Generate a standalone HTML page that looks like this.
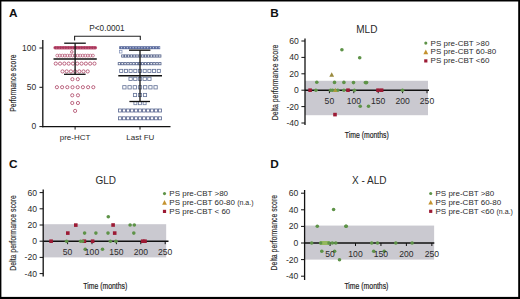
<!DOCTYPE html>
<html><head><meta charset="utf-8"><title>Figure</title>
<style>
html,body{margin:0;padding:0;background:#fff;}
body{width:520px;height:299px;overflow:hidden;}
svg{display:block;font-family:"Liberation Sans", sans-serif;}
</style></head>
<body>
<svg width="520" height="299" viewBox="0 0 520 299">
<rect x="0" y="0" width="520" height="299" fill="#000"/>
<rect x="1.4" y="1.5" width="516.8" height="295.4" fill="#fff"/>
<text x="8.90" y="17.30" font-size="11.8" text-anchor="start" font-weight="bold" fill="#111" >A</text>
<line x1="42.80" y1="40.00" x2="42.80" y2="127.20" stroke="#111" stroke-width="1.3"/>
<line x1="42.20" y1="126.60" x2="170.50" y2="126.60" stroke="#111" stroke-width="1.3"/>
<line x1="39.40" y1="48.00" x2="42.80" y2="48.00" stroke="#111" stroke-width="1.0"/>
<text x="36.20" y="50.50" font-size="8.5" text-anchor="end" font-weight="normal" fill="#2a2a2a" >100</text>
<line x1="39.40" y1="87.30" x2="42.80" y2="87.30" stroke="#111" stroke-width="1.0"/>
<text x="36.20" y="89.80" font-size="8.5" text-anchor="end" font-weight="normal" fill="#2a2a2a" >50</text>
<line x1="39.40" y1="126.60" x2="42.80" y2="126.60" stroke="#111" stroke-width="1.0"/>
<text x="36.20" y="129.10" font-size="8.5" text-anchor="end" font-weight="normal" fill="#2a2a2a" >0</text>
<line x1="75.10" y1="126.60" x2="75.10" y2="129.60" stroke="#111" stroke-width="1.0"/>
<line x1="140.00" y1="126.60" x2="140.00" y2="129.60" stroke="#111" stroke-width="1.0"/>
<text x="75.10" y="140.10" font-size="8" text-anchor="middle" font-weight="normal" fill="#2a2a2a" >pre-HCT</text>
<text x="140.30" y="140.10" font-size="8" text-anchor="middle" font-weight="normal" fill="#2a2a2a" >Last FU</text>
<text transform="translate(15.8,83.2) rotate(-90)" font-size="9" text-anchor="middle" fill="#2a2a2a" textLength="57.2" lengthAdjust="spacingAndGlyphs" stroke="#2a2a2a" stroke-width="0.15">Performance score</text>
<polyline points="74.6,40.5 74.6,36.2 140.3,36.2 140.3,40" fill="none" stroke="#222" stroke-width="1.1"/>
<text x="107.00" y="30.90" font-size="8.2" text-anchor="middle" font-weight="normal" fill="#2a2a2a" >P&lt;0.0001</text>
<rect x="53.4" y="46.1" width="43.7" height="3.3" rx="1.65" fill="#c4587a"/>
<circle cx="55.22" cy="47.70" r="0.7" fill="none" stroke="#8a2244" stroke-width="0.65"/>
<circle cx="57.87" cy="47.70" r="0.7" fill="none" stroke="#8a2244" stroke-width="0.65"/>
<circle cx="60.52" cy="47.70" r="0.7" fill="none" stroke="#8a2244" stroke-width="0.65"/>
<circle cx="63.17" cy="47.70" r="0.7" fill="none" stroke="#8a2244" stroke-width="0.65"/>
<circle cx="65.82" cy="47.70" r="0.7" fill="none" stroke="#8a2244" stroke-width="0.65"/>
<circle cx="68.47" cy="47.70" r="0.7" fill="none" stroke="#8a2244" stroke-width="0.65"/>
<circle cx="71.12" cy="47.70" r="0.7" fill="none" stroke="#8a2244" stroke-width="0.65"/>
<circle cx="73.77" cy="47.70" r="0.7" fill="none" stroke="#8a2244" stroke-width="0.65"/>
<circle cx="76.42" cy="47.70" r="0.7" fill="none" stroke="#8a2244" stroke-width="0.65"/>
<circle cx="79.07" cy="47.70" r="0.7" fill="none" stroke="#8a2244" stroke-width="0.65"/>
<circle cx="81.72" cy="47.70" r="0.7" fill="none" stroke="#8a2244" stroke-width="0.65"/>
<circle cx="84.38" cy="47.70" r="0.7" fill="none" stroke="#8a2244" stroke-width="0.65"/>
<circle cx="87.02" cy="47.70" r="0.7" fill="none" stroke="#8a2244" stroke-width="0.65"/>
<circle cx="89.67" cy="47.70" r="0.7" fill="none" stroke="#8a2244" stroke-width="0.65"/>
<circle cx="92.32" cy="47.70" r="0.7" fill="none" stroke="#8a2244" stroke-width="0.65"/>
<circle cx="94.97" cy="47.70" r="0.7" fill="none" stroke="#8a2244" stroke-width="0.65"/>
<circle cx="71.80" cy="51.90" r="1.3" fill="none" stroke="#a83a5c" stroke-width="0.75"/>
<circle cx="57.25" cy="55.60" r="1.45" fill="none" stroke="#a8385a" stroke-width="0.6"/>
<circle cx="59.80" cy="55.60" r="1.45" fill="none" stroke="#a8385a" stroke-width="0.6"/>
<circle cx="62.35" cy="55.60" r="1.45" fill="none" stroke="#a8385a" stroke-width="0.6"/>
<circle cx="64.90" cy="55.60" r="1.45" fill="none" stroke="#a8385a" stroke-width="0.6"/>
<circle cx="67.45" cy="55.60" r="1.45" fill="none" stroke="#a8385a" stroke-width="0.6"/>
<circle cx="70.00" cy="55.60" r="1.45" fill="none" stroke="#a8385a" stroke-width="0.6"/>
<circle cx="72.55" cy="55.60" r="1.45" fill="none" stroke="#a8385a" stroke-width="0.6"/>
<circle cx="75.10" cy="55.60" r="1.45" fill="none" stroke="#a8385a" stroke-width="0.6"/>
<circle cx="77.65" cy="55.60" r="1.45" fill="none" stroke="#a8385a" stroke-width="0.6"/>
<circle cx="80.20" cy="55.60" r="1.45" fill="none" stroke="#a8385a" stroke-width="0.6"/>
<circle cx="82.75" cy="55.60" r="1.45" fill="none" stroke="#a8385a" stroke-width="0.6"/>
<circle cx="85.30" cy="55.60" r="1.45" fill="none" stroke="#a8385a" stroke-width="0.6"/>
<circle cx="87.85" cy="55.60" r="1.45" fill="none" stroke="#a8385a" stroke-width="0.6"/>
<circle cx="90.40" cy="55.60" r="1.45" fill="none" stroke="#a8385a" stroke-width="0.6"/>
<circle cx="92.95" cy="55.60" r="1.45" fill="none" stroke="#a8385a" stroke-width="0.6"/>
<circle cx="55.75" cy="63.60" r="1.6" fill="none" stroke="#a83a5c" stroke-width="0.75"/>
<circle cx="60.05" cy="63.60" r="1.6" fill="none" stroke="#a83a5c" stroke-width="0.75"/>
<circle cx="64.35" cy="63.60" r="1.6" fill="none" stroke="#a83a5c" stroke-width="0.75"/>
<circle cx="68.65" cy="63.60" r="1.6" fill="none" stroke="#a83a5c" stroke-width="0.75"/>
<circle cx="72.95" cy="63.60" r="1.6" fill="none" stroke="#a83a5c" stroke-width="0.75"/>
<circle cx="77.25" cy="63.60" r="1.6" fill="none" stroke="#a83a5c" stroke-width="0.75"/>
<circle cx="81.55" cy="63.60" r="1.6" fill="none" stroke="#a83a5c" stroke-width="0.75"/>
<circle cx="85.85" cy="63.60" r="1.6" fill="none" stroke="#a83a5c" stroke-width="0.75"/>
<circle cx="90.15" cy="63.60" r="1.6" fill="none" stroke="#a83a5c" stroke-width="0.75"/>
<circle cx="94.45" cy="63.60" r="1.6" fill="none" stroke="#a83a5c" stroke-width="0.75"/>
<circle cx="62.50" cy="71.40" r="1.6" fill="none" stroke="#a83a5c" stroke-width="0.75"/>
<circle cx="66.70" cy="71.40" r="1.6" fill="none" stroke="#a83a5c" stroke-width="0.75"/>
<circle cx="70.90" cy="71.40" r="1.6" fill="none" stroke="#a83a5c" stroke-width="0.75"/>
<circle cx="75.10" cy="71.40" r="1.6" fill="none" stroke="#a83a5c" stroke-width="0.75"/>
<circle cx="79.30" cy="71.40" r="1.6" fill="none" stroke="#a83a5c" stroke-width="0.75"/>
<circle cx="83.50" cy="71.40" r="1.6" fill="none" stroke="#a83a5c" stroke-width="0.75"/>
<circle cx="87.70" cy="71.40" r="1.6" fill="none" stroke="#a83a5c" stroke-width="0.75"/>
<circle cx="72.40" cy="79.20" r="1.6" fill="none" stroke="#a83a5c" stroke-width="0.75"/>
<circle cx="77.80" cy="79.20" r="1.6" fill="none" stroke="#a83a5c" stroke-width="0.75"/>
<circle cx="56.90" cy="87.20" r="1.6" fill="none" stroke="#a83a5c" stroke-width="0.75"/>
<circle cx="62.10" cy="87.20" r="1.6" fill="none" stroke="#a83a5c" stroke-width="0.75"/>
<circle cx="67.30" cy="87.20" r="1.6" fill="none" stroke="#a83a5c" stroke-width="0.75"/>
<circle cx="72.50" cy="87.20" r="1.6" fill="none" stroke="#a83a5c" stroke-width="0.75"/>
<circle cx="77.70" cy="87.20" r="1.6" fill="none" stroke="#a83a5c" stroke-width="0.75"/>
<circle cx="82.90" cy="87.20" r="1.6" fill="none" stroke="#a83a5c" stroke-width="0.75"/>
<circle cx="88.10" cy="87.20" r="1.6" fill="none" stroke="#a83a5c" stroke-width="0.75"/>
<circle cx="93.30" cy="87.20" r="1.6" fill="none" stroke="#a83a5c" stroke-width="0.75"/>
<circle cx="72.25" cy="95.30" r="1.6" fill="none" stroke="#a83a5c" stroke-width="0.75"/>
<circle cx="77.95" cy="95.30" r="1.6" fill="none" stroke="#a83a5c" stroke-width="0.75"/>
<circle cx="72.25" cy="103.00" r="1.6" fill="none" stroke="#a83a5c" stroke-width="0.75"/>
<circle cx="77.95" cy="103.00" r="1.6" fill="none" stroke="#a83a5c" stroke-width="0.75"/>
<circle cx="75.10" cy="110.90" r="1.6" fill="none" stroke="#a83a5c" stroke-width="0.75"/>
<line x1="75.10" y1="43.20" x2="75.10" y2="74.30" stroke="#111" stroke-width="1.3"/>
<line x1="64.20" y1="43.20" x2="85.80" y2="43.20" stroke="#111" stroke-width="1.3"/>
<line x1="64.00" y1="74.30" x2="85.60" y2="74.30" stroke="#111" stroke-width="1.3"/>
<line x1="53.50" y1="58.90" x2="96.80" y2="58.90" stroke="#111" stroke-width="1.5"/>
<rect x="119.2" y="46.2" width="41.0" height="3.0" fill="#5a6a9c"/>
<rect x="121.00" y="47.10" width="1.10" height="1.20" fill="#c4cce6" stroke="none" stroke-width="0"/>
<rect x="123.90" y="47.10" width="1.10" height="1.20" fill="#c4cce6" stroke="none" stroke-width="0"/>
<rect x="126.80" y="47.10" width="1.10" height="1.20" fill="#c4cce6" stroke="none" stroke-width="0"/>
<rect x="129.70" y="47.10" width="1.10" height="1.20" fill="#c4cce6" stroke="none" stroke-width="0"/>
<rect x="132.60" y="47.10" width="1.10" height="1.20" fill="#c4cce6" stroke="none" stroke-width="0"/>
<rect x="135.50" y="47.10" width="1.10" height="1.20" fill="#c4cce6" stroke="none" stroke-width="0"/>
<rect x="138.40" y="47.10" width="1.10" height="1.20" fill="#c4cce6" stroke="none" stroke-width="0"/>
<rect x="141.30" y="47.10" width="1.10" height="1.20" fill="#c4cce6" stroke="none" stroke-width="0"/>
<rect x="144.20" y="47.10" width="1.10" height="1.20" fill="#c4cce6" stroke="none" stroke-width="0"/>
<rect x="147.10" y="47.10" width="1.10" height="1.20" fill="#c4cce6" stroke="none" stroke-width="0"/>
<rect x="150.00" y="47.10" width="1.10" height="1.20" fill="#c4cce6" stroke="none" stroke-width="0"/>
<rect x="152.90" y="47.10" width="1.10" height="1.20" fill="#c4cce6" stroke="none" stroke-width="0"/>
<rect x="155.80" y="47.10" width="1.10" height="1.20" fill="#c4cce6" stroke="none" stroke-width="0"/>
<rect x="158.70" y="47.10" width="1.10" height="1.20" fill="#c4cce6" stroke="none" stroke-width="0"/>
<rect x="119.60" y="50.60" width="2.40" height="2.40" fill="#fff" stroke="#8090b8" stroke-width="0.7"/>
<rect x="121.68" y="54.90" width="2.20" height="2.20" fill="#fff" stroke="#4a5882" stroke-width="0.8"/>
<rect x="124.53" y="54.90" width="2.20" height="2.20" fill="#fff" stroke="#4a5882" stroke-width="0.8"/>
<rect x="127.38" y="54.90" width="2.20" height="2.20" fill="#fff" stroke="#4a5882" stroke-width="0.8"/>
<rect x="130.23" y="54.90" width="2.20" height="2.20" fill="#fff" stroke="#4a5882" stroke-width="0.8"/>
<rect x="133.08" y="54.90" width="2.20" height="2.20" fill="#fff" stroke="#4a5882" stroke-width="0.8"/>
<rect x="135.93" y="54.90" width="2.20" height="2.20" fill="#fff" stroke="#4a5882" stroke-width="0.8"/>
<rect x="138.78" y="54.90" width="2.20" height="2.20" fill="#fff" stroke="#4a5882" stroke-width="0.8"/>
<rect x="141.62" y="54.90" width="2.20" height="2.20" fill="#fff" stroke="#4a5882" stroke-width="0.8"/>
<rect x="144.48" y="54.90" width="2.20" height="2.20" fill="#fff" stroke="#4a5882" stroke-width="0.8"/>
<rect x="147.33" y="54.90" width="2.20" height="2.20" fill="#fff" stroke="#4a5882" stroke-width="0.8"/>
<rect x="150.18" y="54.90" width="2.20" height="2.20" fill="#fff" stroke="#4a5882" stroke-width="0.8"/>
<rect x="153.03" y="54.90" width="2.20" height="2.20" fill="#fff" stroke="#4a5882" stroke-width="0.8"/>
<rect x="155.88" y="54.90" width="2.20" height="2.20" fill="#fff" stroke="#4a5882" stroke-width="0.8"/>
<rect x="158.73" y="54.90" width="2.20" height="2.20" fill="#fff" stroke="#4a5882" stroke-width="0.8"/>
<rect x="118.20" y="62.60" width="2.20" height="2.20" fill="#fff" stroke="#4e5c86" stroke-width="0.8"/>
<rect x="121.10" y="62.60" width="2.20" height="2.20" fill="#fff" stroke="#4e5c86" stroke-width="0.8"/>
<rect x="124.00" y="62.60" width="2.20" height="2.20" fill="#fff" stroke="#4e5c86" stroke-width="0.8"/>
<rect x="126.90" y="62.60" width="2.20" height="2.20" fill="#fff" stroke="#4e5c86" stroke-width="0.8"/>
<rect x="129.80" y="62.60" width="2.20" height="2.20" fill="#fff" stroke="#4e5c86" stroke-width="0.8"/>
<rect x="132.70" y="62.60" width="2.20" height="2.20" fill="#fff" stroke="#4e5c86" stroke-width="0.8"/>
<rect x="135.60" y="62.60" width="2.20" height="2.20" fill="#fff" stroke="#4e5c86" stroke-width="0.8"/>
<rect x="138.50" y="62.60" width="2.20" height="2.20" fill="#fff" stroke="#4e5c86" stroke-width="0.8"/>
<rect x="141.40" y="62.60" width="2.20" height="2.20" fill="#fff" stroke="#4e5c86" stroke-width="0.8"/>
<rect x="144.30" y="62.60" width="2.20" height="2.20" fill="#fff" stroke="#4e5c86" stroke-width="0.8"/>
<rect x="147.20" y="62.60" width="2.20" height="2.20" fill="#fff" stroke="#4e5c86" stroke-width="0.8"/>
<rect x="150.10" y="62.60" width="2.20" height="2.20" fill="#fff" stroke="#4e5c86" stroke-width="0.8"/>
<rect x="153.00" y="62.60" width="2.20" height="2.20" fill="#fff" stroke="#4e5c86" stroke-width="0.8"/>
<rect x="155.90" y="62.60" width="2.20" height="2.20" fill="#fff" stroke="#4e5c86" stroke-width="0.8"/>
<rect x="158.80" y="62.60" width="2.20" height="2.20" fill="#fff" stroke="#4e5c86" stroke-width="0.8"/>
<rect x="119.65" y="69.35" width="3.10" height="3.10" fill="#fff" stroke="#6a789c" stroke-width="0.85"/>
<rect x="124.35" y="69.35" width="3.10" height="3.10" fill="#fff" stroke="#6a789c" stroke-width="0.85"/>
<rect x="129.05" y="69.35" width="3.10" height="3.10" fill="#fff" stroke="#6a789c" stroke-width="0.85"/>
<rect x="133.75" y="69.35" width="3.10" height="3.10" fill="#fff" stroke="#6a789c" stroke-width="0.85"/>
<rect x="138.45" y="69.35" width="3.10" height="3.10" fill="#fff" stroke="#6a789c" stroke-width="0.85"/>
<rect x="143.15" y="69.35" width="3.10" height="3.10" fill="#fff" stroke="#6a789c" stroke-width="0.85"/>
<rect x="147.85" y="69.35" width="3.10" height="3.10" fill="#fff" stroke="#6a789c" stroke-width="0.85"/>
<rect x="152.55" y="69.35" width="3.10" height="3.10" fill="#fff" stroke="#6a789c" stroke-width="0.85"/>
<rect x="157.25" y="69.35" width="3.10" height="3.10" fill="#fff" stroke="#6a789c" stroke-width="0.85"/>
<rect x="128.95" y="77.25" width="3.30" height="3.30" fill="#fff" stroke="#6a789c" stroke-width="0.85"/>
<rect x="133.65" y="77.25" width="3.30" height="3.30" fill="#fff" stroke="#6a789c" stroke-width="0.85"/>
<rect x="138.35" y="77.25" width="3.30" height="3.30" fill="#fff" stroke="#6a789c" stroke-width="0.85"/>
<rect x="143.05" y="77.25" width="3.30" height="3.30" fill="#fff" stroke="#6a789c" stroke-width="0.85"/>
<rect x="147.75" y="77.25" width="3.30" height="3.30" fill="#fff" stroke="#6a789c" stroke-width="0.85"/>
<rect x="122.75" y="85.65" width="3.30" height="3.30" fill="#fff" stroke="#6a789c" stroke-width="0.85"/>
<rect x="127.95" y="85.65" width="3.30" height="3.30" fill="#fff" stroke="#6a789c" stroke-width="0.85"/>
<rect x="133.15" y="85.65" width="3.30" height="3.30" fill="#fff" stroke="#6a789c" stroke-width="0.85"/>
<rect x="138.35" y="85.65" width="3.30" height="3.30" fill="#fff" stroke="#6a789c" stroke-width="0.85"/>
<rect x="143.55" y="85.65" width="3.30" height="3.30" fill="#fff" stroke="#6a789c" stroke-width="0.85"/>
<rect x="148.75" y="85.65" width="3.30" height="3.30" fill="#fff" stroke="#6a789c" stroke-width="0.85"/>
<rect x="153.95" y="85.65" width="3.30" height="3.30" fill="#fff" stroke="#6a789c" stroke-width="0.85"/>
<rect x="133.40" y="93.40" width="3.20" height="3.20" fill="#fff" stroke="#6a789c" stroke-width="0.85"/>
<rect x="138.40" y="93.40" width="3.20" height="3.20" fill="#fff" stroke="#6a789c" stroke-width="0.85"/>
<rect x="143.40" y="93.40" width="3.20" height="3.20" fill="#fff" stroke="#6a789c" stroke-width="0.85"/>
<rect x="133.90" y="101.70" width="3.00" height="3.00" fill="#fff" stroke="#6a789c" stroke-width="0.8"/>
<rect x="138.50" y="101.70" width="3.00" height="3.00" fill="#fff" stroke="#6a789c" stroke-width="0.8"/>
<rect x="143.10" y="101.70" width="3.00" height="3.00" fill="#fff" stroke="#6a789c" stroke-width="0.8"/>
<rect x="118.50" y="109.00" width="3.00" height="3.00" fill="#fff" stroke="#5e6c94" stroke-width="0.85"/>
<rect x="122.50" y="109.00" width="3.00" height="3.00" fill="#fff" stroke="#5e6c94" stroke-width="0.85"/>
<rect x="126.50" y="109.00" width="3.00" height="3.00" fill="#fff" stroke="#5e6c94" stroke-width="0.85"/>
<rect x="130.50" y="109.00" width="3.00" height="3.00" fill="#fff" stroke="#5e6c94" stroke-width="0.85"/>
<rect x="134.50" y="109.00" width="3.00" height="3.00" fill="#fff" stroke="#5e6c94" stroke-width="0.85"/>
<rect x="138.50" y="109.00" width="3.00" height="3.00" fill="#fff" stroke="#5e6c94" stroke-width="0.85"/>
<rect x="142.50" y="109.00" width="3.00" height="3.00" fill="#fff" stroke="#5e6c94" stroke-width="0.85"/>
<rect x="146.50" y="109.00" width="3.00" height="3.00" fill="#fff" stroke="#5e6c94" stroke-width="0.85"/>
<rect x="150.50" y="109.00" width="3.00" height="3.00" fill="#fff" stroke="#5e6c94" stroke-width="0.85"/>
<rect x="154.50" y="109.00" width="3.00" height="3.00" fill="#fff" stroke="#5e6c94" stroke-width="0.85"/>
<rect x="158.50" y="109.00" width="3.00" height="3.00" fill="#fff" stroke="#5e6c94" stroke-width="0.85"/>
<rect x="118.50" y="116.80" width="3.00" height="3.00" fill="#fff" stroke="#5e6c94" stroke-width="0.85"/>
<rect x="122.50" y="116.80" width="3.00" height="3.00" fill="#fff" stroke="#5e6c94" stroke-width="0.85"/>
<rect x="126.50" y="116.80" width="3.00" height="3.00" fill="#fff" stroke="#5e6c94" stroke-width="0.85"/>
<rect x="130.50" y="116.80" width="3.00" height="3.00" fill="#fff" stroke="#5e6c94" stroke-width="0.85"/>
<rect x="134.50" y="116.80" width="3.00" height="3.00" fill="#fff" stroke="#5e6c94" stroke-width="0.85"/>
<rect x="138.50" y="116.80" width="3.00" height="3.00" fill="#fff" stroke="#5e6c94" stroke-width="0.85"/>
<rect x="142.50" y="116.80" width="3.00" height="3.00" fill="#fff" stroke="#5e6c94" stroke-width="0.85"/>
<rect x="146.50" y="116.80" width="3.00" height="3.00" fill="#fff" stroke="#5e6c94" stroke-width="0.85"/>
<rect x="150.50" y="116.80" width="3.00" height="3.00" fill="#fff" stroke="#5e6c94" stroke-width="0.85"/>
<rect x="154.50" y="116.80" width="3.00" height="3.00" fill="#fff" stroke="#5e6c94" stroke-width="0.85"/>
<rect x="158.50" y="116.80" width="3.00" height="3.00" fill="#fff" stroke="#5e6c94" stroke-width="0.85"/>
<line x1="140.00" y1="50.20" x2="140.00" y2="101.50" stroke="#111" stroke-width="1.3"/>
<line x1="129.00" y1="50.20" x2="150.40" y2="50.20" stroke="#111" stroke-width="1.3"/>
<line x1="129.40" y1="101.50" x2="150.00" y2="101.50" stroke="#111" stroke-width="1.3"/>
<line x1="118.30" y1="75.70" x2="162.00" y2="75.70" stroke="#111" stroke-width="1.5"/>
<text x="270.20" y="17.30" font-size="11.8" text-anchor="start" font-weight="bold" fill="#111" >B</text>
<text x="366.80" y="33.00" font-size="10" text-anchor="middle" font-weight="normal" fill="#2a2a2a" >MLD</text>
<rect x="305.00" y="80.77" width="122.98" height="34.44" fill="#cac9d0" stroke="none" stroke-width="0"/>
<line x1="305.00" y1="38.40" x2="305.00" y2="125.00" stroke="#111" stroke-width="1.3"/>
<line x1="301.40" y1="41.00" x2="305.00" y2="41.00" stroke="#111" stroke-width="1.0"/>
<line x1="301.40" y1="57.40" x2="305.00" y2="57.40" stroke="#111" stroke-width="1.0"/>
<line x1="301.40" y1="73.80" x2="305.00" y2="73.80" stroke="#111" stroke-width="1.0"/>
<line x1="301.40" y1="90.20" x2="305.00" y2="90.20" stroke="#111" stroke-width="1.0"/>
<line x1="301.40" y1="106.60" x2="305.00" y2="106.60" stroke="#111" stroke-width="1.0"/>
<line x1="301.40" y1="123.00" x2="305.00" y2="123.00" stroke="#111" stroke-width="1.0"/>
<line x1="305.00" y1="90.20" x2="429.00" y2="90.20" stroke="#111" stroke-width="1.4"/>
<line x1="329.40" y1="90.20" x2="329.40" y2="93.20" stroke="#111" stroke-width="1.0"/>
<line x1="353.80" y1="90.20" x2="353.80" y2="93.20" stroke="#111" stroke-width="1.0"/>
<line x1="378.20" y1="90.20" x2="378.20" y2="93.20" stroke="#111" stroke-width="1.0"/>
<line x1="402.60" y1="90.20" x2="402.60" y2="93.20" stroke="#111" stroke-width="1.0"/>
<line x1="427.00" y1="90.20" x2="427.00" y2="93.20" stroke="#111" stroke-width="1.0"/>
<circle cx="341.90" cy="49.70" r="1.8" fill="#5e9348" stroke="none" stroke-width="0"/>
<circle cx="359.70" cy="57.70" r="1.8" fill="#5e9348" stroke="none" stroke-width="0"/>
<circle cx="316.80" cy="82.20" r="1.8" fill="#5e9348" stroke="none" stroke-width="0"/>
<circle cx="334.50" cy="82.40" r="1.8" fill="#5e9348" stroke="none" stroke-width="0"/>
<circle cx="343.90" cy="82.40" r="1.8" fill="#5e9348" stroke="none" stroke-width="0"/>
<circle cx="353.50" cy="82.60" r="1.8" fill="#5e9348" stroke="none" stroke-width="0"/>
<circle cx="365.40" cy="82.60" r="1.8" fill="#5e9348" stroke="none" stroke-width="0"/>
<circle cx="366.60" cy="82.60" r="1.8" fill="#5e9348" stroke="none" stroke-width="0"/>
<circle cx="315.90" cy="90.20" r="1.8" fill="#5e9348" stroke="none" stroke-width="0"/>
<circle cx="330.60" cy="90.20" r="1.8" fill="#5e9348" stroke="none" stroke-width="0"/>
<circle cx="332.60" cy="90.20" r="1.8" fill="#5e9348" stroke="none" stroke-width="0"/>
<circle cx="337.80" cy="90.20" r="1.8" fill="#5e9348" stroke="none" stroke-width="0"/>
<circle cx="343.90" cy="90.20" r="1.8" fill="#5e9348" stroke="none" stroke-width="0"/>
<circle cx="354.40" cy="90.20" r="1.8" fill="#5e9348" stroke="none" stroke-width="0"/>
<circle cx="402.50" cy="90.20" r="1.8" fill="#5e9348" stroke="none" stroke-width="0"/>
<circle cx="360.20" cy="106.30" r="1.8" fill="#5e9348" stroke="none" stroke-width="0"/>
<circle cx="368.50" cy="106.30" r="1.8" fill="#5e9348" stroke="none" stroke-width="0"/>
<polygon points="331.70,72.14 334.10,76.76 329.30,76.76" fill="#9a8a3e"/>
<polygon points="335.30,87.72 337.50,91.98 333.10,91.98" fill="#a89a3a"/>
<rect x="308.30" y="88.40" width="3.60" height="3.60" fill="#9c1a34" stroke="none" stroke-width="0"/>
<rect x="346.20" y="88.40" width="3.60" height="3.60" fill="#9c1a34" stroke="none" stroke-width="0"/>
<rect x="376.20" y="88.40" width="3.60" height="3.60" fill="#9c1a34" stroke="none" stroke-width="0"/>
<rect x="379.80" y="88.40" width="3.60" height="3.60" fill="#9c1a34" stroke="none" stroke-width="0"/>
<rect x="333.20" y="112.80" width="3.60" height="3.60" fill="#9c1a34" stroke="none" stroke-width="0"/>
<text x="298.80" y="44.00" font-size="8.6" text-anchor="end" font-weight="normal" fill="#2a2a2a" >60</text>
<text x="298.80" y="60.40" font-size="8.6" text-anchor="end" font-weight="normal" fill="#2a2a2a" >40</text>
<text x="298.80" y="76.80" font-size="8.6" text-anchor="end" font-weight="normal" fill="#2a2a2a" >20</text>
<text x="298.80" y="93.20" font-size="8.6" text-anchor="end" font-weight="normal" fill="#2a2a2a" >0</text>
<text x="298.80" y="109.60" font-size="8.6" text-anchor="end" font-weight="normal" fill="#2a2a2a" >-20</text>
<text x="298.80" y="126.00" font-size="8.6" text-anchor="end" font-weight="normal" fill="#2a2a2a" >-40</text>
<text x="329.40" y="103.80" font-size="8.6" text-anchor="middle" font-weight="normal" fill="#2a2a2a" >50</text>
<text x="353.80" y="103.80" font-size="8.6" text-anchor="middle" font-weight="normal" fill="#2a2a2a" >100</text>
<text x="378.20" y="103.80" font-size="8.6" text-anchor="middle" font-weight="normal" fill="#2a2a2a" >150</text>
<text x="402.60" y="103.80" font-size="8.6" text-anchor="middle" font-weight="normal" fill="#2a2a2a" >200</text>
<text x="427.00" y="103.80" font-size="8.6" text-anchor="middle" font-weight="normal" fill="#2a2a2a" >250</text>
<text transform="translate(277.60,82.50) rotate(-90)" font-size="9" text-anchor="middle" fill="#2a2a2a" textLength="75.6" lengthAdjust="spacingAndGlyphs" stroke="#2a2a2a" stroke-width="0.15">Delta performance score</text>
<text x="344.80" y="137.50" font-size="9.4" fill="#222" textLength="44" lengthAdjust="spacingAndGlyphs" stroke="#222" stroke-width="0.2">Time (months)</text>
<circle cx="425.80" cy="43.10" r="1.55" fill="#5e9348" stroke="none" stroke-width="0"/>
<text x="430.60" y="45.50" font-size="8" text-anchor="start" font-weight="normal" fill="#2a2a2a" >PS pre-CBT &gt;80</text>
<polygon points="425.80,49.54 428.20,54.16 423.40,54.16" fill="#c4922e"/>
<text x="430.60" y="54.40" font-size="8" text-anchor="start" font-weight="normal" fill="#2a2a2a" >PS pre-CBT 60-80</text>
<rect x="424.20" y="59.30" width="3.20" height="3.20" fill="#9c1a34" stroke="none" stroke-width="0"/>
<text x="430.60" y="63.30" font-size="8" text-anchor="start" font-weight="normal" fill="#2a2a2a" >PS pre-CBT &lt;60</text>
<text x="8.90" y="168.20" font-size="11.8" text-anchor="start" font-weight="bold" fill="#111" >C</text>
<text x="105.80" y="183.90" font-size="10" text-anchor="middle" font-weight="normal" fill="#2a2a2a" >GLD</text>
<rect x="43.20" y="224.19" width="122.98" height="33.21" fill="#cac9d0" stroke="none" stroke-width="0"/>
<line x1="43.20" y1="189.60" x2="43.20" y2="276.50" stroke="#111" stroke-width="1.3"/>
<line x1="39.60" y1="192.60" x2="43.20" y2="192.60" stroke="#111" stroke-width="1.0"/>
<line x1="39.60" y1="208.80" x2="43.20" y2="208.80" stroke="#111" stroke-width="1.0"/>
<line x1="39.60" y1="225.00" x2="43.20" y2="225.00" stroke="#111" stroke-width="1.0"/>
<line x1="39.60" y1="241.20" x2="43.20" y2="241.20" stroke="#111" stroke-width="1.0"/>
<line x1="39.60" y1="257.40" x2="43.20" y2="257.40" stroke="#111" stroke-width="1.0"/>
<line x1="39.60" y1="273.60" x2="43.20" y2="273.60" stroke="#111" stroke-width="1.0"/>
<line x1="43.20" y1="241.20" x2="168.50" y2="241.20" stroke="#111" stroke-width="1.4"/>
<line x1="67.60" y1="241.20" x2="67.60" y2="244.20" stroke="#111" stroke-width="1.0"/>
<line x1="92.00" y1="241.20" x2="92.00" y2="244.20" stroke="#111" stroke-width="1.0"/>
<line x1="116.40" y1="241.20" x2="116.40" y2="244.20" stroke="#111" stroke-width="1.0"/>
<line x1="140.80" y1="241.20" x2="140.80" y2="244.20" stroke="#111" stroke-width="1.0"/>
<line x1="165.20" y1="241.20" x2="165.20" y2="244.20" stroke="#111" stroke-width="1.0"/>
<rect x="49.30" y="239.40" width="3.60" height="3.60" fill="#9c1a34" stroke="none" stroke-width="0"/>
<rect x="66.00" y="231.30" width="3.60" height="3.60" fill="#9c1a34" stroke="none" stroke-width="0"/>
<rect x="74.00" y="223.30" width="3.60" height="3.60" fill="#9c1a34" stroke="none" stroke-width="0"/>
<rect x="82.60" y="239.40" width="3.60" height="3.60" fill="#9c1a34" stroke="none" stroke-width="0"/>
<rect x="90.80" y="239.40" width="3.60" height="3.60" fill="#9c1a34" stroke="none" stroke-width="0"/>
<rect x="111.30" y="223.20" width="3.60" height="3.60" fill="#9c1a34" stroke="none" stroke-width="0"/>
<rect x="112.90" y="231.30" width="3.60" height="3.60" fill="#9c1a34" stroke="none" stroke-width="0"/>
<rect x="140.90" y="239.40" width="3.60" height="3.60" fill="#9c1a34" stroke="none" stroke-width="0"/>
<rect x="143.20" y="239.40" width="3.60" height="3.60" fill="#9c1a34" stroke="none" stroke-width="0"/>
<circle cx="108.30" cy="216.70" r="1.8" fill="#5e9348" stroke="none" stroke-width="0"/>
<circle cx="108.00" cy="233.10" r="1.8" fill="#5e9348" stroke="none" stroke-width="0"/>
<circle cx="84.60" cy="233.10" r="1.8" fill="#5e9348" stroke="none" stroke-width="0"/>
<circle cx="95.90" cy="233.10" r="1.8" fill="#5e9348" stroke="none" stroke-width="0"/>
<circle cx="130.10" cy="225.00" r="1.8" fill="#5e9348" stroke="none" stroke-width="0"/>
<circle cx="134.30" cy="225.00" r="1.8" fill="#5e9348" stroke="none" stroke-width="0"/>
<circle cx="133.80" cy="233.10" r="1.8" fill="#5e9348" stroke="none" stroke-width="0"/>
<circle cx="66.60" cy="241.20" r="1.8" fill="#5e9348" stroke="none" stroke-width="0"/>
<circle cx="80.60" cy="241.20" r="1.8" fill="#5e9348" stroke="none" stroke-width="0"/>
<circle cx="82.60" cy="241.20" r="1.8" fill="#5e9348" stroke="none" stroke-width="0"/>
<circle cx="110.40" cy="241.20" r="1.8" fill="#5e9348" stroke="none" stroke-width="0"/>
<circle cx="115.90" cy="241.20" r="1.8" fill="#5e9348" stroke="none" stroke-width="0"/>
<circle cx="102.50" cy="249.30" r="1.8" fill="#5e9348" stroke="none" stroke-width="0"/>
<circle cx="85.20" cy="249.30" r="1.8" fill="#5e9348" stroke="none" stroke-width="0"/>
<text x="37.00" y="195.60" font-size="8.6" text-anchor="end" font-weight="normal" fill="#2a2a2a" >60</text>
<text x="37.00" y="211.80" font-size="8.6" text-anchor="end" font-weight="normal" fill="#2a2a2a" >40</text>
<text x="37.00" y="228.00" font-size="8.6" text-anchor="end" font-weight="normal" fill="#2a2a2a" >20</text>
<text x="37.00" y="244.20" font-size="8.6" text-anchor="end" font-weight="normal" fill="#2a2a2a" >0</text>
<text x="37.00" y="260.40" font-size="8.6" text-anchor="end" font-weight="normal" fill="#2a2a2a" >-20</text>
<text x="37.00" y="276.60" font-size="8.6" text-anchor="end" font-weight="normal" fill="#2a2a2a" >-40</text>
<text x="67.60" y="254.80" font-size="8.6" text-anchor="middle" font-weight="normal" fill="#2a2a2a" >50</text>
<text x="92.00" y="254.80" font-size="8.6" text-anchor="middle" font-weight="normal" fill="#2a2a2a" >100</text>
<text x="116.40" y="254.80" font-size="8.6" text-anchor="middle" font-weight="normal" fill="#2a2a2a" >150</text>
<text x="140.80" y="254.80" font-size="8.6" text-anchor="middle" font-weight="normal" fill="#2a2a2a" >200</text>
<text x="165.20" y="254.80" font-size="8.6" text-anchor="middle" font-weight="normal" fill="#2a2a2a" >250</text>
<text transform="translate(15.70,232.90) rotate(-90)" font-size="9" text-anchor="middle" fill="#2a2a2a" textLength="75.7" lengthAdjust="spacingAndGlyphs" stroke="#2a2a2a" stroke-width="0.15">Delta performance score</text>
<text x="83.30" y="289.20" font-size="9.4" fill="#222" textLength="44" lengthAdjust="spacingAndGlyphs" stroke="#222" stroke-width="0.2">Time (months)</text>
<circle cx="164.50" cy="193.60" r="1.55" fill="#5e9348" stroke="none" stroke-width="0"/>
<text x="169.30" y="196.00" font-size="8" text-anchor="start" font-weight="normal" fill="#2a2a2a" >PS pre-CBT &gt;80</text>
<polygon points="164.50,200.04 166.90,204.66 162.10,204.66" fill="#c4922e"/>
<text x="169.30" y="204.90" font-size="8" text-anchor="start" font-weight="normal" fill="#2a2a2a" >PS pre-CBT 60-80 <tspan font-size="7">(n.a.)</tspan></text>
<rect x="162.90" y="209.80" width="3.20" height="3.20" fill="#9c1a34" stroke="none" stroke-width="0"/>
<text x="169.30" y="213.80" font-size="8" text-anchor="start" font-weight="normal" fill="#2a2a2a" >PS pre-CBT &lt; 60</text>
<text x="270.20" y="168.40" font-size="11.8" text-anchor="start" font-weight="bold" fill="#111" >D</text>
<text x="369.30" y="183.50" font-size="10" text-anchor="middle" font-weight="normal" fill="#2a2a2a" >X - ALD</text>
<rect x="304.60" y="225.57" width="129.54" height="34.03" fill="#cac9d0" stroke="none" stroke-width="0"/>
<line x1="304.60" y1="190.00" x2="304.60" y2="280.00" stroke="#111" stroke-width="1.3"/>
<line x1="301.00" y1="193.20" x2="304.60" y2="193.20" stroke="#111" stroke-width="1.0"/>
<line x1="301.00" y1="209.80" x2="304.60" y2="209.80" stroke="#111" stroke-width="1.0"/>
<line x1="301.00" y1="226.40" x2="304.60" y2="226.40" stroke="#111" stroke-width="1.0"/>
<line x1="301.00" y1="243.00" x2="304.60" y2="243.00" stroke="#111" stroke-width="1.0"/>
<line x1="301.00" y1="259.60" x2="304.60" y2="259.60" stroke="#111" stroke-width="1.0"/>
<line x1="301.00" y1="276.20" x2="304.60" y2="276.20" stroke="#111" stroke-width="1.0"/>
<line x1="304.60" y1="243.00" x2="434.30" y2="243.00" stroke="#111" stroke-width="1.4"/>
<line x1="330.05" y1="243.00" x2="330.05" y2="246.00" stroke="#111" stroke-width="1.0"/>
<line x1="355.50" y1="243.00" x2="355.50" y2="246.00" stroke="#111" stroke-width="1.0"/>
<line x1="380.95" y1="243.00" x2="380.95" y2="246.00" stroke="#111" stroke-width="1.0"/>
<line x1="406.40" y1="243.00" x2="406.40" y2="246.00" stroke="#111" stroke-width="1.0"/>
<line x1="431.85" y1="243.00" x2="431.85" y2="246.00" stroke="#111" stroke-width="1.0"/>
<rect x="319.6" y="241.0" width="10.5" height="4.0" rx="1.8" fill="#94b85c"/>
<circle cx="317.30" cy="226.30" r="1.8" fill="#5e9348" stroke="none" stroke-width="0"/>
<circle cx="345.90" cy="226.30" r="1.8" fill="#5e9348" stroke="none" stroke-width="0"/>
<circle cx="346.20" cy="226.30" r="1.8" fill="#5e9348" stroke="none" stroke-width="0"/>
<circle cx="333.60" cy="209.50" r="1.8" fill="#5e9348" stroke="none" stroke-width="0"/>
<circle cx="311.70" cy="243.00" r="1.8" fill="#5e9348" stroke="none" stroke-width="0"/>
<circle cx="320.60" cy="243.00" r="1.8" fill="#5e9348" stroke="none" stroke-width="0"/>
<circle cx="329.00" cy="243.00" r="1.8" fill="#5e9348" stroke="none" stroke-width="0"/>
<circle cx="332.30" cy="243.00" r="1.8" fill="#5e9348" stroke="none" stroke-width="0"/>
<circle cx="335.80" cy="243.00" r="1.8" fill="#5e9348" stroke="none" stroke-width="0"/>
<circle cx="371.70" cy="243.00" r="1.8" fill="#5e9348" stroke="none" stroke-width="0"/>
<circle cx="377.50" cy="243.00" r="1.8" fill="#5e9348" stroke="none" stroke-width="0"/>
<circle cx="395.80" cy="243.00" r="1.8" fill="#5e9348" stroke="none" stroke-width="0"/>
<circle cx="412.10" cy="243.00" r="1.8" fill="#5e9348" stroke="none" stroke-width="0"/>
<circle cx="321.80" cy="251.30" r="1.8" fill="#5e9348" stroke="none" stroke-width="0"/>
<circle cx="334.60" cy="251.30" r="1.8" fill="#5e9348" stroke="none" stroke-width="0"/>
<circle cx="373.70" cy="251.30" r="1.8" fill="#5e9348" stroke="none" stroke-width="0"/>
<circle cx="384.20" cy="251.30" r="1.8" fill="#5e9348" stroke="none" stroke-width="0"/>
<circle cx="339.50" cy="259.80" r="1.8" fill="#5e9348" stroke="none" stroke-width="0"/>
<text x="298.40" y="196.20" font-size="8.6" text-anchor="end" font-weight="normal" fill="#2a2a2a" >60</text>
<text x="298.40" y="212.80" font-size="8.6" text-anchor="end" font-weight="normal" fill="#2a2a2a" >40</text>
<text x="298.40" y="229.40" font-size="8.6" text-anchor="end" font-weight="normal" fill="#2a2a2a" >20</text>
<text x="298.40" y="246.00" font-size="8.6" text-anchor="end" font-weight="normal" fill="#2a2a2a" >0</text>
<text x="298.40" y="262.60" font-size="8.6" text-anchor="end" font-weight="normal" fill="#2a2a2a" >-20</text>
<text x="298.40" y="279.20" font-size="8.6" text-anchor="end" font-weight="normal" fill="#2a2a2a" >-40</text>
<text x="330.05" y="256.60" font-size="8.6" text-anchor="middle" font-weight="normal" fill="#2a2a2a" >50</text>
<text x="355.50" y="256.60" font-size="8.6" text-anchor="middle" font-weight="normal" fill="#2a2a2a" >100</text>
<text x="380.95" y="256.60" font-size="8.6" text-anchor="middle" font-weight="normal" fill="#2a2a2a" >150</text>
<text x="406.40" y="256.60" font-size="8.6" text-anchor="middle" font-weight="normal" fill="#2a2a2a" >200</text>
<text x="431.85" y="256.60" font-size="8.6" text-anchor="middle" font-weight="normal" fill="#2a2a2a" >250</text>
<text transform="translate(277.30,232.70) rotate(-90)" font-size="9" text-anchor="middle" fill="#2a2a2a" textLength="75.4" lengthAdjust="spacingAndGlyphs" stroke="#2a2a2a" stroke-width="0.15">Delta performance score</text>
<text x="344.40" y="288.80" font-size="9.4" fill="#222" textLength="44" lengthAdjust="spacingAndGlyphs" stroke="#222" stroke-width="0.2">Time (months)</text>
<circle cx="430.70" cy="193.50" r="1.55" fill="#5e9348" stroke="none" stroke-width="0"/>
<text x="435.50" y="195.90" font-size="8" text-anchor="start" font-weight="normal" fill="#2a2a2a" >PS pre-CBT &gt;80</text>
<polygon points="430.70,199.94 433.10,204.56 428.30,204.56" fill="#c4922e"/>
<text x="435.50" y="204.80" font-size="8" text-anchor="start" font-weight="normal" fill="#2a2a2a" >PS pre-CBT 60-80</text>
<rect x="429.10" y="209.70" width="3.20" height="3.20" fill="#9c1a34" stroke="none" stroke-width="0"/>
<text x="435.50" y="213.70" font-size="8" text-anchor="start" font-weight="normal" fill="#2a2a2a" >PS pre-CBT &lt;60 <tspan font-size="7">(n.a.)</tspan></text>
</svg>
</body></html>
